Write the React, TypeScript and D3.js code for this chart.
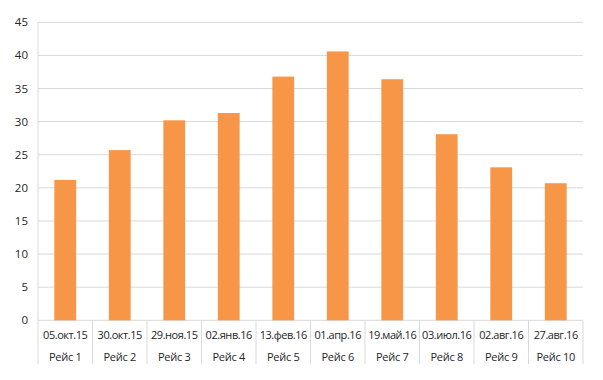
import React from "react";
import * as d3 from "d3";

const dates = ["05.окт.15", "30.окт.15", "29.ноя.15", "02.янв.16", "13.фев.16", "01.апр.16", "19.май.16", "03.июл.16", "02.авг.16", "27.авг.16"];
const trips = ["Рейс 1", "Рейс 2", "Рейс 3", "Рейс 4", "Рейс 5", "Рейс 6", "Рейс 7", "Рейс 8", "Рейс 9", "Рейс 10"];
const values = [21.2, 25.7, 30.2, 31.3, 36.8, 40.6, 36.4, 28.1, 23.1, 20.7];
const yTicks = [0, 5, 10, 15, 20, 25, 30, 35, 40, 45];

export default function App() {
  const W = 603, H = 380;
  const left = 38, right = 583, top = 22.3, bottom = 320.3;
  const ids = d3.range(values.length).map(String);
  const x = d3.scaleBand<string>().domain(ids).range([left, right]).paddingInner(0).paddingOuter(0);
  const y = d3.scaleLinear().domain([0, 45]).range([bottom, top]);
  const bw = x.bandwidth() * 0.4;
  const font = "Open Sans, Liberation Sans, sans-serif";
  return (
    <svg width={W} height={H} style={{ position: "absolute", left: 0, top: 0, background: "#fff" }}>
      {yTicks.map((t) => (
        <g key={t}>
          <line x1={left} x2={right} y1={y(t)} y2={y(t)} stroke="#d9d9d9" strokeWidth={1} />
          <text x={28} y={y(t)} dy="0.35em" textAnchor="end" fontSize={11.5} fontFamily={font} fill="#262626">{t}</text>
        </g>
      ))}
      <line x1={left} x2={left} y1={top} y2={bottom} stroke="#d9d9d9" />
      {values.map((v, i) => (
        <rect key={i} x={(x(String(i)) as number) + (x.bandwidth() - bw) / 2} y={y(v)} width={bw} height={bottom - y(v)} fill="#f79646" />
      ))}
      {d3.range(values.length + 1).map((i) => {
        const xx = left + i * x.bandwidth();
        return <line key={"s" + i} x1={xx} x2={xx} y1={bottom} y2={364} stroke="#d9d9d9" />;
      })}
      {ids.map((id, i) => (
        <g key={"l" + i}>
          <text x={(x(id) as number) + x.bandwidth() / 2} y={335} dy="0.35em" textAnchor="middle" fontSize={11} fontFamily={font} fill="#262626" letterSpacing={-0.45}>{dates[i]}</text>
          <text x={(x(id) as number) + x.bandwidth() / 2} y={357} dy="0.35em" textAnchor="middle" fontSize={11} fontFamily={font} fill="#262626" letterSpacing={-0.3}>{trips[i]}</text>
        </g>
      ))}
    </svg>
  );
}
